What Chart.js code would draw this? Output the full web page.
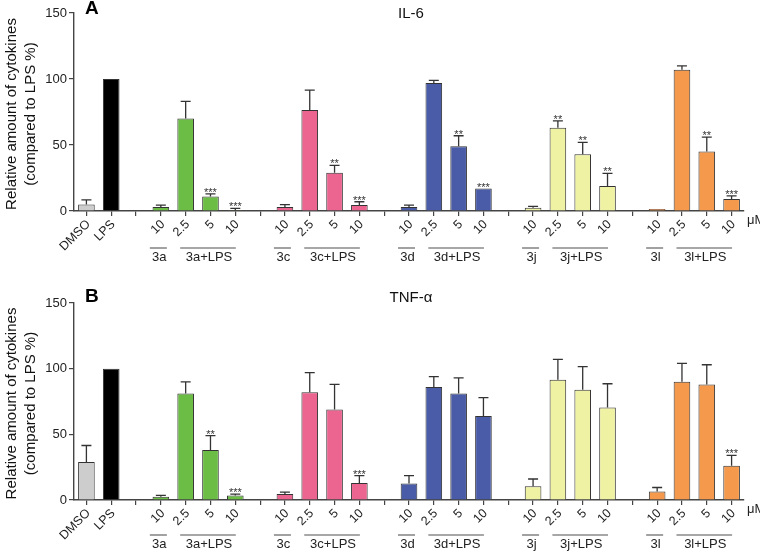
<!DOCTYPE html>
<html><head><meta charset="utf-8">
<script src="https://cdn.jsdelivr.net/npm/chart.js@4.4.0/dist/chart.umd.min.js"></script>
<style>
html,body{margin:0;padding:0;background:#fff;}
#wrap{position:relative;width:760px;height:551px;overflow:hidden;background:#fff;}
canvas{position:absolute;left:0;}
</style></head><body>
<div id="wrap">
<canvas id="cA" width="760" height="275" style="top:0px"></canvas>
<canvas id="cB" width="760" height="276" style="top:275px"></canvas>
</div>
<script>
// ---- data ----
const categories = ['DMSO','LPS','','10','2.5','5','10','','10','2.5','5','10','','10','2.5','5','10','','10','2.5','5','10','','10','2.5','5','10'];
const il6Values  = [5,100,null,3,70,11,0.5,null,3,76.5,29,4.5,null,3,97,49,17,null,2.5,63,43,19,null,1.5,107,45,9];
const il6Errors  = [3.5,0,null,1.5,13,2,1.5,null,1.8,15,5.5,2.5,null,1.5,2,8,0,null,1,5.3,9,9.5,null,0,3,11,2.5];
const il6Stars   = ['','','','','','***','***','','','','**','***','','','','**','***','','','**','**','**','','','','**','***'];
const tnfValues  = [29,100,null,2.5,81,38,3.5,null,4.5,82,69,13,null,12.5,86,81,64,null,10.5,91.5,84,70.5,null,6.5,90,88,26];
const tnfErrors  = [12.5,0,null,1,9,11,1,null,1.5,15,19,5.5,null,6,8,12,14,null,5.5,15.5,17.5,18,null,3,14,15,8];
const tnfStars   = ['','','','','','**','***','','','','','***','','','','','','','','','','','','','','','***'];
const groupLabels = ['3a','3a+LPS','3c','3c+LPS','3d','3d+LPS','3j','3j+LPS','3l','3l+LPS'];
const groupFrom   = [3,4,8,9,13,14,18,19,23,24];
const groupTo     = [3,6,8,11,13,16,18,21,23,26];
const yTickValues = [0,50,100,150];
const unitLabel = 'μM';
const yTitle = ['Relative amount of cytokines','(compared to LPS %)'];

// ---- styles ----
const C = {gray:'#cdcdcd', black:'#000000', green:'#6cbd45', pink:'#ec6490', blue:'#4a5ca8', yellow:'#eff2a3', orange:'#f59a4d'};
const barColors = [C.gray,C.black,null,
  C.green,C.green,C.green,C.green,null,
  C.pink,C.pink,C.pink,C.pink,null,
  C.blue,C.blue,C.blue,C.blue,null,
  C.yellow,C.yellow,C.yellow,C.yellow,null,
  C.orange,C.orange,C.orange,C.orange];
const FONT = '"Liberation Sans", Arial, Helvetica, sans-serif';

const extras = {
  id:'extras',
  afterDatasetsDraw(chart, args, o){
    const ctx = chart.ctx, x = chart.scales.x, y = chart.scales.y;
    ctx.save();
    ctx.strokeStyle = '#333'; ctx.lineWidth = 1.3;
    o.values.forEach((v,i)=>{
      if(v==null) return;
      const cx = x.getPixelForValue(i);
      const top = y.getPixelForValue(v);
      const e = o.errors[i] || 0;
      let et = top;
      if(e>0){
        et = y.getPixelForValue(v+e);
        ctx.beginPath();
        ctx.moveTo(cx, top); ctx.lineTo(cx, et);
        ctx.moveTo(cx-5, et); ctx.lineTo(cx+5, et);
        ctx.stroke();
      }
      if(o.stars[i]){
        ctx.fillStyle = '#333';
        ctx.font = '11px '+FONT;
        ctx.textAlign = 'center';
        ctx.textBaseline = 'alphabetic';
        ctx.fillText(o.stars[i], cx, et+2);
      }
    });
    ctx.restore();
  },
  afterDraw(chart, args, o){
    const ctx = chart.ctx, x = chart.scales.x, y = chart.scales.y, ca = chart.chartArea;
    ctx.save();
    ctx.fillStyle = '#000';
    ctx.font = 'bold 19px '+FONT;
    ctx.textAlign = 'left'; ctx.textBaseline = 'middle';
    ctx.fillText(o.letter, 85, o.letterY);
    ctx.font = '15px '+FONT;
    ctx.textAlign = 'center';
    ctx.fillStyle = '#111';
    ctx.fillText(o.title, 411, o.titleY);
    const midY = (ca.top+ca.bottom)/2 + 2;
    [[12, yTitle[0]],[31, yTitle[1]]].forEach(([px, t])=>{
      ctx.save();
      ctx.translate(px, midY); ctx.rotate(-Math.PI/2);
      ctx.font = '15px '+FONT; ctx.textAlign='center'; ctx.textBaseline='middle'; ctx.fillStyle='#111';
      ctx.fillText(t, 0, 0);
      ctx.restore();
    });
    const step = x.getPixelForValue(1) - x.getPixelForValue(0);
    groupLabels.forEach((lab,g)=>{
      const a = x.getPixelForValue(groupFrom[g]), b = x.getPixelForValue(groupTo[g]);
      const c = (a+b)/2 - 2.5;
      const n = groupTo[g]-groupFrom[g]+1;
      const hw = n===1 ? 8.5 : (n-1)*step/2 + 3;
      ctx.strokeStyle = '#8a8a8a'; ctx.lineWidth = 1.6;
      ctx.beginPath(); ctx.moveTo(c-hw, ca.bottom+o.lineOff); ctx.lineTo(c+hw, ca.bottom+o.lineOff); ctx.stroke();
      ctx.fillStyle = '#222'; ctx.font = '13px '+FONT; ctx.textAlign='center'; ctx.textBaseline='middle';
      ctx.fillText(lab, c+1, ca.bottom+o.textOff);
    });
    ctx.fillStyle = '#222'; ctx.font = '13px '+FONT; ctx.textAlign='left'; ctx.textBaseline='middle';
    ctx.fillText(unitLabel, ca.right+3, ca.bottom+9);
    ctx.restore();
  }
};

function makeChart(id, values, errors, stars, opts){
  const H = opts.height;
  return new Chart(document.getElementById(id), {
    type:'bar',
    data:{
      labels: categories,
      datasets:[{
        data: values,
        backgroundColor: barColors,
        borderColor: barColors.map((c,i)=> (i===23 && opts.brownEdge) ? '#7a4a2a' : '#333'),
        borderWidth: 1,
        categoryPercentage: 1,
        barPercentage: 0.67
      }]
    },
    options:{
      responsive:false, animation:false,
      layout:{padding:{top:opts.top, right:16, left:0, bottom:0}},
      plugins:{legend:{display:false}, tooltip:{enabled:false}, title:{display:false},
        extras:{values, errors, stars, letter:opts.letter, letterY:opts.letterY, title:opts.title, titleY:opts.titleY, lineOff:opts.lineOff, textOff:opts.textOff}},
      scales:{
        x:{
          type:'category', offset:true,
          grid:{display:true, drawOnChartArea:false, drawTicks:true, tickLength:5, offset:false, color:'#444', lineWidth:1.2},
          border:{display:true, color:'#444', width:1.4},
          ticks:{autoSkip:false, minRotation:45, maxRotation:45, padding:1, labelOffset:2, color:'#222', font:{size:12.5, family:FONT}},
          afterFit(s){ s.height = H - opts.bottom; }
        },
        y:{
          min:0, max:150,
          afterBuildTicks(s){ s.ticks = yTickValues.map(v=>({value:v})); },
          grid:{display:true, drawOnChartArea:false, drawTicks:true, tickLength:5, color:'#444', lineWidth:1.2},
          border:{display:true, color:'#444', width:1.4},
          ticks:{padding:2, color:'#222', font:{size:13, family:FONT}},
          afterFit(s){ s.width = 74; }
        }
      }
    },
    plugins:[extras]
  });
}

makeChart('cA', il6Values, il6Errors, il6Stars,
  {height:275, top:13, bottom:211, letter:'A', letterY:9, title:'IL-6', titleY:14, lineOff:37, textOff:46, brownEdge:true});
makeChart('cB', tnfValues, tnfErrors, tnfStars,
  {height:276, top:28, bottom:225, letter:'B', letterY:22, title:'TNF-α', titleY:23, lineOff:35, textOff:44, brownEdge:false});
</script>
</body></html>
